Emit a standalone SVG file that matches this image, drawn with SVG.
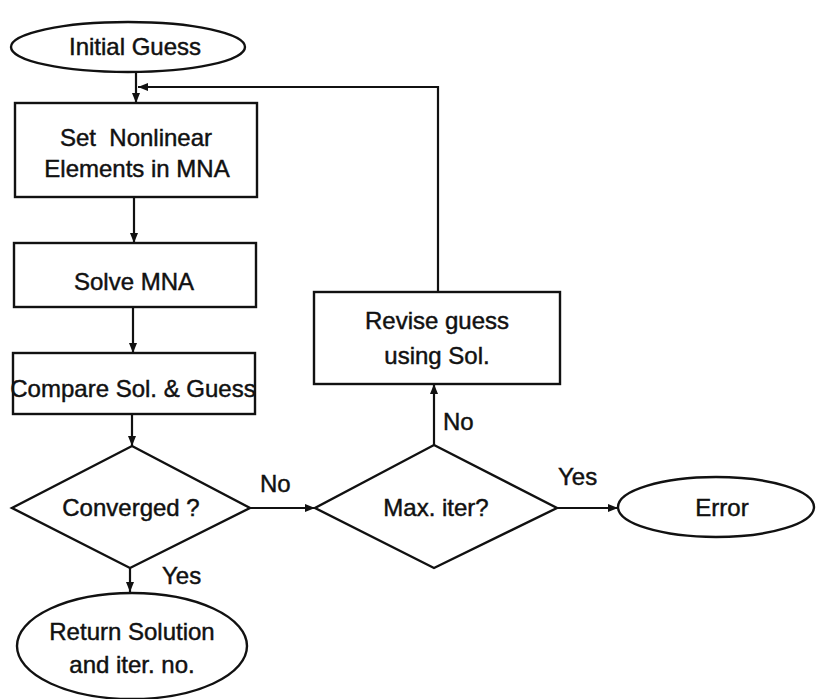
<svg xmlns="http://www.w3.org/2000/svg" width="816" height="699" viewBox="0 0 816 699">
  <defs>
    <marker id="arrow" viewBox="0 0 10 8" refX="10" refY="4" markerWidth="10" markerHeight="8" markerUnits="userSpaceOnUse" orient="auto">
      <path d="M0,0 L10,4 L0,8 Z" fill="#111"/>
    </marker>
    <style>
      .shape { fill: #fff; stroke: #111; stroke-width: 2.4; }
      .edge { fill: none; stroke: #111; stroke-width: 2.2; }
      .label { font-family: "Liberation Sans", Arial, Helvetica, sans-serif; font-size: 24px; fill: #111; stroke: #111; stroke-width: 0.45; text-anchor: middle; }
      .tag { font-family: "Liberation Sans", Arial, Helvetica, sans-serif; font-size: 24px; fill: #111; stroke: #111; stroke-width: 0.45; }
    </style>
  </defs>
  <rect width="816" height="699" fill="#fff"/>

  <g id="connectors">
    <line class="edge" x1="136" y1="72" x2="136" y2="103" marker-end="url(#arrow)"/>
    <polyline class="edge" points="438,292 438,87 138,87" marker-end="url(#arrow)"/>
    <line class="edge" x1="134" y1="197" x2="134" y2="243" marker-end="url(#arrow)"/>
    <line class="edge" x1="133" y1="307" x2="133" y2="353" marker-end="url(#arrow)"/>
    <line class="edge" x1="132" y1="414" x2="132" y2="446" marker-end="url(#arrow)"/>
    <line class="edge" x1="250" y1="508" x2="315" y2="508" marker-end="url(#arrow)"/>
    <line class="edge" x1="130" y1="568" x2="130" y2="592" marker-end="url(#arrow)"/>
    <line class="edge" x1="434" y1="445" x2="434" y2="384" marker-end="url(#arrow)"/>
    <line class="edge" x1="557" y1="508" x2="618" y2="508" marker-end="url(#arrow)"/>
    <text class="tag" x="260" y="492">No</text>
    <text class="tag" x="162" y="584">Yes</text>
    <text class="tag" x="443" y="430">No</text>
    <text class="tag" x="558" y="485">Yes</text>
  </g>

  <g id="initial-guess">
    <ellipse class="shape" cx="128" cy="47" rx="117" ry="25"/>
    <text class="label" x="135" y="55">Initial Guess</text>
  </g>

  <g id="set-nonlinear">
    <rect class="shape" x="15" y="103" width="242" height="94"/>
    <text class="label" x="136" y="146" xml:space="preserve">Set  Nonlinear</text>
    <text class="label" x="137" y="177">Elements in MNA</text>
  </g>

  <g id="solve-mna">
    <rect class="shape" x="14" y="243" width="242" height="64"/>
    <text class="label" x="134" y="290">Solve MNA</text>
  </g>

  <g id="compare">
    <rect class="shape" x="13" y="353" width="242" height="61"/>
    <text class="label" x="133" y="397">Compare Sol. &amp; Guess</text>
  </g>

  <g id="converged">
    <polygon class="shape" points="132,446 250,508 130,568 12,508"/>
    <text class="label" x="131" y="516">Converged ?</text>
  </g>

  <g id="return-solution">
    <ellipse class="shape" cx="132" cy="646" rx="115" ry="53"/>
    <text class="label" x="132" y="640">Return Solution</text>
    <text class="label" x="132" y="673">and iter. no.</text>
  </g>

  <g id="max-iter">
    <polygon class="shape" points="434,445 557,508 434,568 315,508"/>
    <text class="label" x="436" y="516">Max. iter?</text>
  </g>

  <g id="revise-guess">
    <rect class="shape" x="314" y="292" width="246" height="92"/>
    <text class="label" x="437" y="329">Revise guess</text>
    <text class="label" x="437" y="364">using Sol.</text>
  </g>

  <g id="error">
    <ellipse class="shape" cx="716" cy="507" rx="98" ry="30"/>
    <text class="label" x="722" y="516">Error</text>
  </g>
</svg>
